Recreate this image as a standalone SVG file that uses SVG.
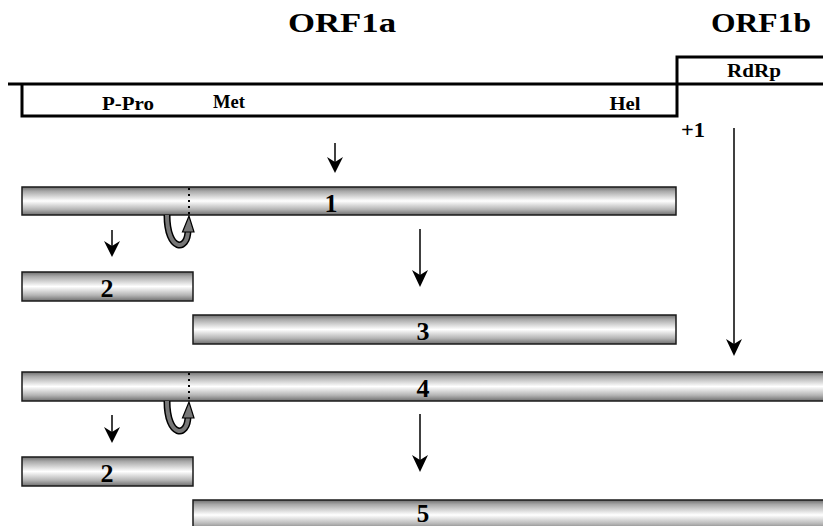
<svg xmlns="http://www.w3.org/2000/svg" width="823" height="526" viewBox="0 0 823 526">
<defs>
<linearGradient id="g" x1="0" y1="0" x2="0" y2="1">
<stop offset="0" stop-color="#6e6e6e"/>
<stop offset="0.15" stop-color="#a8a8a8"/>
<stop offset="0.5" stop-color="#ffffff"/>
<stop offset="0.8" stop-color="#b5b5b5"/>
<stop offset="1" stop-color="#6e6e6e"/>
</linearGradient>
</defs>
<style>
.t{font-family:"Liberation Serif","Times New Roman",serif;font-weight:bold;fill:#000;text-anchor:middle}
.bar{fill:url(#g);stroke:#1a1a1a;stroke-width:1.5}
.ln{stroke:#000;stroke-width:3;fill:none}
.ar{stroke:#000;stroke-width:1.5;fill:none}
.hd{fill:#000}
</style>
<g id="header">
<text class="t" x="342" y="32" font-size="28" textLength="108" lengthAdjust="spacingAndGlyphs">ORF1a</text>
<text class="t" x="761" y="32" font-size="28" textLength="100" lengthAdjust="spacingAndGlyphs">ORF1b</text>
<polyline class="ln" points="8,84 677,84"/>
<polyline class="ln" points="22,84 22,116 677,116 677,57 823,57"/>
<polyline class="ln" points="677,84 823,84"/>
<text class="t" x="754" y="77" font-size="19" textLength="54" lengthAdjust="spacingAndGlyphs">RdRp</text>
<text class="t" x="128" y="110" font-size="19" textLength="52" lengthAdjust="spacingAndGlyphs">P-Pro</text>
<text class="t" x="229" y="108" font-size="18" textLength="32" lengthAdjust="spacingAndGlyphs">Met</text>
<text class="t" x="625" y="110" font-size="19" textLength="31" lengthAdjust="spacingAndGlyphs">Hel</text>
<text class="t" x="693" y="137" font-size="21" textLength="24" lengthAdjust="spacingAndGlyphs">+1</text>
</g>
<g id="bar1"><rect class="bar" x="22" y="187" width="654" height="28"/><text class="t" x="331" y="212" font-size="26">1</text></g>
<g id="bar2a"><rect class="bar" x="22" y="272" width="171" height="29"/><text class="t" x="107" y="297" font-size="26">2</text></g>
<g id="bar3"><rect class="bar" x="193" y="315" width="483" height="29"/><text class="t" x="423" y="340" font-size="26">3</text></g>
<g id="bar4"><rect class="bar" x="22" y="372" width="803" height="29"/><text class="t" x="423" y="397" font-size="26">4</text></g>
<g id="bar2b"><rect class="bar" x="22" y="457" width="171" height="29"/><text class="t" x="107" y="482" font-size="26">2</text></g>
<g id="bar5"><rect class="bar" x="193" y="500" width="632" height="30"/><text class="t" x="423" y="522" font-size="25">5</text></g>
<g id="cleavage1">
<line x1="189" y1="188" x2="189" y2="214" stroke="#000" stroke-width="2" stroke-dasharray="2,4"/>
<path d="M167,215 C167,252 188,252 188,230" stroke="#000" stroke-width="7" fill="none"/>
<path d="M167,215 C167,252 188,252 188,230" stroke="#777" stroke-width="4" fill="none"/>
<polygon points="189,216 182.5,232 194,232" fill="#777" stroke="#000" stroke-width="1.2"/>
</g>
<g id="cleavage2">
<line x1="189" y1="373" x2="189" y2="399" stroke="#000" stroke-width="2" stroke-dasharray="2,4"/>
<path d="M167,401 C167,438 188,438 188,416" stroke="#000" stroke-width="7" fill="none"/>
<path d="M167,401 C167,438 188,438 188,416" stroke="#777" stroke-width="4" fill="none"/>
<polygon points="189,402 182.5,418 194,418" fill="#777" stroke="#000" stroke-width="1.2"/>
</g>
<g id="connectors">
<line class="ar" x1="335" y1="143" x2="335" y2="165"/><polygon class="hd" points="335,173 327,157 335,162 343,157"/>
<line class="ar" x1="420" y1="229" x2="420" y2="280"/><polygon class="hd" points="420,287 412,270 420,275 428,270"/>
<line class="ar" x1="112" y1="230" x2="112" y2="250"/><polygon class="hd" points="112,257 104,241 112,246 120,241"/>
<line class="ar" x1="734" y1="128" x2="734" y2="348"/><polygon class="hd" points="734,356 726,339 734,344 742,339"/>
<line class="ar" x1="112" y1="415" x2="112" y2="436"/><polygon class="hd" points="112,443 104,427 112,432 120,427"/>
<line class="ar" x1="420" y1="414" x2="420" y2="465"/><polygon class="hd" points="420,472 412,455 420,460 428,455"/>
</g>
</svg>
